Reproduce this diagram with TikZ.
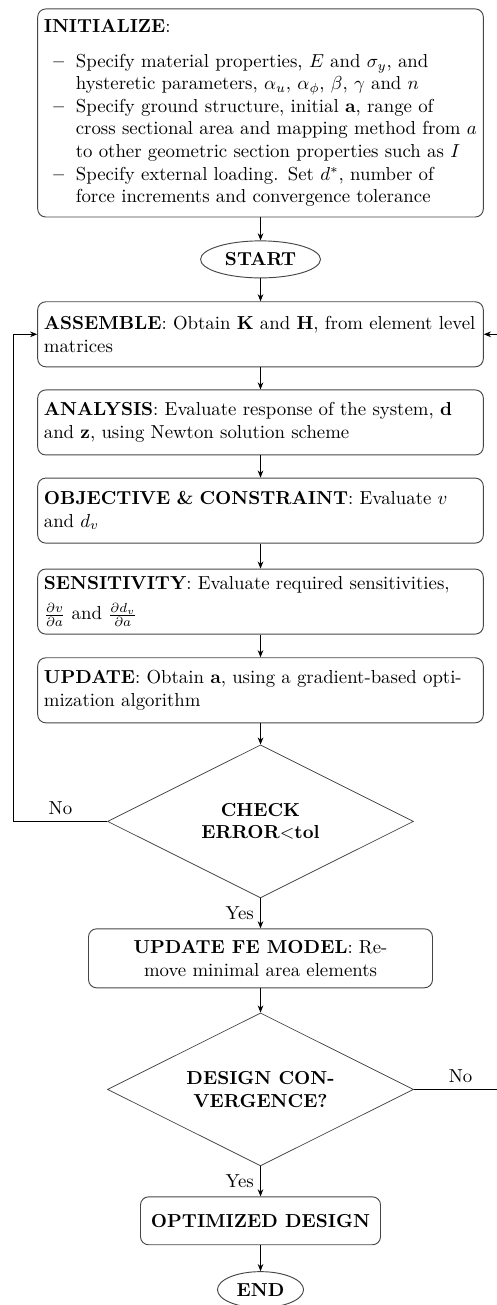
\documentclass[tikz,border=0pt]{standalone}
\usepackage{amsmath,amssymb}
\usepackage{tikz}
\usetikzlibrary{arrows.meta,positioning,calc,shapes.geometric}
\definecolor{boxgray}{RGB}{70,70,70}

\begin{document}
\begin{tikzpicture}[
  node distance=11.8pt,
  stage/.style={draw=boxgray,line width=0.5pt,rounded corners=4.3pt,text width=230.5pt,
    minimum height=34.6pt,align=left,inner xsep=3.3pt,inner ysep=2pt},
  term/.style={draw=boxgray,line width=0.5pt,ellipse,inner sep=0pt,font=\bfseries},
  decision/.style={draw=boxgray,diamond,aspect=2,minimum width=162.8pt,minimum height=81.4pt,
    align=center,inner sep=0pt,font=\bfseries},
  result/.style={draw=boxgray,line width=0.5pt,rounded corners=4.3pt,align=center,inner sep=3pt},
  arrow/.style={-{Stealth[length=3.8pt,width=3pt]},draw=black}
]
\useasboundingbox (0,0) rectangle (264.4pt,-694.3pt);
\node[stage,minimum height=110.7pt] (init) at (138.6pt,-60.1pt) {\textbf{INITIALIZE}:\\[6.5pt]
  \hspace*{5pt}\makebox[12pt][l]{\textbf{--}}Specify material properties, $E$ and $\sigma_y$, and\\
  \hspace*{17pt}hysteretic parameters, $\alpha_u$, $\alpha_\phi$, $\beta$, $\gamma$ and $n$\\
  \hspace*{5pt}\makebox[12pt][l]{\textbf{--}}Specify ground structure, initial $\mathbf{a}$, range of\\
  \hspace*{17pt}cross sectional area and mapping method from $a$\\
  \hspace*{17pt}to other geometric section properties such as $I$\\
  \hspace*{5pt}\makebox[12pt][l]{\textbf{--}}Specify external loading. Set $d^*$, number of\\
  \hspace*{17pt}force increments and convergence tolerance};
\node[term,minimum width=63.8pt,minimum height=19.7pt,below=12.2pt of init] (start) {START};
\node[stage,below=12.2pt of start] (assemble) {\textbf{ASSEMBLE}: Obtain $\mathbf{K}$ and $\mathbf{H}$, from element level\\matrices};
\node[stage,below=of assemble] (analysis) {\textbf{ANALYSIS}: Evaluate response of the system, $\mathbf{d}$\\and $\mathbf{z}$, using Newton solution scheme};
\node[stage,below=of analysis] (objective) {\textbf{OBJECTIVE \& CONSTRAINT}: Evaluate $v$\\and $d_v$};
\node[stage,below=13.3pt of objective] (sensitivity) {\textbf{SENSITIVITY}: Evaluate required sensitivities,\\[4pt]$\frac{\partial v}{\partial a}$ and $\frac{\partial d_v}{\partial a}$};
\node[stage,below=12.1pt of sensitivity] (update) {\textbf{UPDATE}: Obtain $\mathbf{a}$, using a gradient-based opti-\\mization algorithm};
\node[decision,below=11.3pt of update] (check) {CHECK\\ERROR$<$tol};
\node[result,minimum width=183pt,minimum height=31.4pt,below=16pt of check] (updfe) {\textbf{UPDATE FE MODEL}: Re-\\move minimal area elements};
\node[decision,below=12.9pt of updfe] (design) {DESIGN CON-\\VERGENCE?};
\node[result,font=\bfseries,minimum width=127.7pt,minimum height=25.5pt,below=16pt of design] (optimized) {OPTIMIZED DESIGN};
\node[term,minimum width=45.8pt,minimum height=19.2pt,below=13.8pt of optimized] (finish) {END};
\draw[arrow] (init) -- (start);
\draw[arrow] (start) -- (assemble);
\draw[arrow] (assemble) -- (analysis);
\draw[arrow] (analysis) -- (objective);
\draw[arrow] (objective) -- (sensitivity);
\draw[arrow] (sensitivity) -- (update);
\draw[arrow] (update) -- (check);
\draw[arrow] (check) -- node[left]{Yes} (updfe);
\draw[arrow] (check.west) -- node[above]{No} ($(assemble.west |- check.west)+(-12.5pt,0)$) |- (assemble.west);
\draw[arrow] (updfe) -- (design);
\draw[arrow] (design) -- node[left]{Yes} (optimized);
\draw[arrow] (design.east) -- node[above]{No} ($(assemble.east |- design.east)+(12.5pt,0)$) |- (assemble.east);
\draw[arrow] (optimized) -- (finish);
\end{tikzpicture}
\end{document}
